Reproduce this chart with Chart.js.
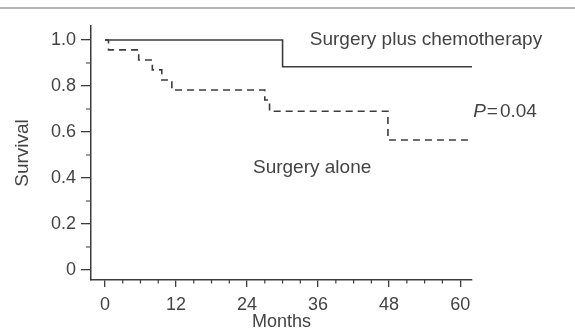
<!DOCTYPE html>
<html>
<head>
<meta charset="utf-8">
<script src="https://cdn.jsdelivr.net/npm/chart.js@4.4.1/dist/chart.umd.min.js"></script>
<style>
  html, body { margin: 0; padding: 0; background: #fff; }
  #wrap { width: 575px; height: 335px; }
</style>
</head>
<body>
<div id="wrap"><canvas id="graphique" width="575" height="335"></canvas></div>
<script>
// donnees (courbes de survie, mois)
const chemoMonths = [0, 30, 62];
const chemoSurv = [1.0, 0.884, 0.884];
const aloneMonths = [0, 0.6, 5.7, 8.0, 9.6, 11.3, 27.0, 27.8, 47.8, 62];
const aloneSurv = [1.0, 0.957, 0.913, 0.87, 0.826, 0.783, 0.739, 0.69, 0.565, 0.565];

const xTicks = [0, 12, 24, 36, 48, 60];
const yTicks = [0, 0.2, 0.4, 0.6, 0.8, 1.0];
const xMinor = [3, 6, 9, 15, 18, 21, 27, 30, 33, 39, 42, 45, 51, 54, 57];
const yMinor = [0.1, 0.3, 0.5, 0.7, 0.9];

const inkColor = '#3c3c3c';
const textColor = '#444';
const fontName = "'Liberation Sans', Arial, sans-serif";

function toPoints(xs, ys) {
    return xs.map((x, i) => ({ x: x, y: ys[i] }));
}

// petits traits secondaires + filet du haut + textes dans la figure
const decorPlugin = {
    id: 'decor',
    beforeDraw(chart) {
        const ctx = chart.ctx;
        ctx.save();
        ctx.strokeStyle = '#9a9a9a';
        ctx.lineWidth = 1.5;
        ctx.beginPath();
        ctx.moveTo(0, 8);
        ctx.lineTo(chart.width, 8);
        ctx.stroke();
        ctx.restore();
    },
    afterDraw(chart) {
        const ctx = chart.ctx;
        const xs = chart.scales.x;
        const ys = chart.scales.y;
        ctx.save();
        ctx.strokeStyle = inkColor;
        ctx.lineWidth = 1.2;
        ctx.beginPath();
        xMinor.forEach(m => {
            const px = xs.getPixelForValue(m);
            ctx.moveTo(px, xs.top);
            ctx.lineTo(px, xs.top + 3.5);
        });
        yMinor.forEach(v => {
            const py = ys.getPixelForValue(v);
            ctx.moveTo(ys.right, py);
            ctx.lineTo(ys.right - 5, py);
        });
        ctx.stroke();

        ctx.fillStyle = textColor;
        ctx.textBaseline = 'middle';
        ctx.textAlign = 'left';
        ctx.font = '19px ' + fontName;
        ctx.fillText('Surgery plus chemotherapy', xs.getPixelForValue(34.6), ys.getPixelForValue(1.0));
        ctx.fillText('Surgery alone', xs.getPixelForValue(25), ys.getPixelForValue(0.443));

        // P en italique
        let px = xs.getPixelForValue(62.2);
        const py = ys.getPixelForValue(0.69);
        ctx.font = 'italic 19px ' + fontName;
        ctx.fillText('P', px, py);
        px += ctx.measureText('P').width + 1;
        ctx.font = '19px ' + fontName;
        ctx.fillText('=', px, py);
        px += ctx.measureText('=').width + 2;
        ctx.fillText('0.04', px, py);
        ctx.restore();
    }
};

const canvas = document.getElementById('graphique');
const ctx = canvas.getContext('2d');

const myChart = new Chart(ctx, {
    type: 'line',
    data: {
        datasets: [
            {
                label: 'Surgery plus chemotherapy',
                data: toPoints(chemoMonths, chemoSurv),
                stepped: 'before',
                borderColor: inkColor,
                borderWidth: 1.6,
                pointRadius: 0,
                fill: false
            },
            {
                label: 'Surgery alone',
                data: toPoints(aloneMonths, aloneSurv),
                stepped: 'before',
                borderColor: inkColor,
                borderWidth: 1.6,
                borderDash: [7, 5],
                pointRadius: 0,
                fill: false
            }
        ]
    },
    options: {
        responsive: false,
        animation: false,
        layout: { padding: { top: 26, right: 103, left: 0, bottom: 0 } },
        plugins: {
            legend: { display: false },
            tooltip: { enabled: false }
        },
        scales: {
            x: {
                type: 'linear',
                min: -2.36,
                max: 62,
                afterBuildTicks: scale => { scale.ticks = xTicks.map(v => ({ value: v })); },
                afterFit: scale => { scale.height = 55; },
                grid: { drawOnChartArea: false, tickLength: 7, color: inkColor, lineWidth: 1.3 },
                border: { display: true, color: inkColor, width: 1.5 },
                ticks: {
                    color: textColor,
                    font: { family: fontName, size: 18 },
                    padding: 7,
                    maxRotation: 0
                },
                title: {
                    display: true,
                    text: 'Months',
                    color: textColor,
                    font: { family: fontName, size: 18 },
                    padding: { top: 0, bottom: 2 }
                }
            },
            y: {
                type: 'linear',
                min: -0.0435,
                max: 1.061,
                afterBuildTicks: scale => { scale.ticks = yTicks.map(v => ({ value: v })); },
                afterFit: scale => { scale.width = 91; },
                grid: { drawOnChartArea: false, tickLength: 10, color: inkColor, lineWidth: 1.3 },
                border: { display: true, color: inkColor, width: 1.5 },
                ticks: {
                    color: textColor,
                    font: { family: fontName, size: 18 },
                    padding: 5,
                    callback: v => (v === 0 ? '0' : v.toFixed(1))
                },
                title: {
                    display: true,
                    text: 'Survival',
                    color: textColor,
                    font: { family: fontName, size: 19 },
                    padding: { top: 11, bottom: 0 }
                }
            }
        }
    },
    plugins: [decorPlugin]
});
</script>
</body>
</html>
